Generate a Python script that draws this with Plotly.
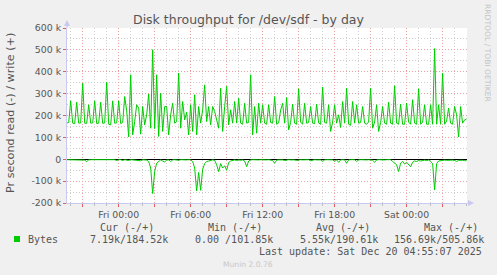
import plotly.graph_objects as go
import pandas as pd

# ---------------- data ----------------
start_time = "2025-12-18 19:40"
step = "10min"

write_k = [
    165, 168, 267, 165, 163, 261, 165, 166, 348, 165,
    164, 249, 165, 166, 267, 163, 165, 261, 164, 166,
    353, 160, 157, 267, 165, 166, 267, 163, 168, 287,
    221, 101.85, 386, 111, 172, 249, 234, 115, 241, 157,
    203, 298, 142, 501, 140, 386, 104, 302, 127, 241,
    241, 111, 203, 256, 165, 172, 394, 142, 264, 180,
    215, 111, 249, 127, 295, 111, 241, 165, 226, 340,
    172, 241, 157, 241, 218, 172, 142, 325, 127, 241,
    333, 157, 226, 165, 264, 165, 279, 165, 160, 256,
    165, 168, 386, 111, 241, 119, 256, 165, 249, 165,
    160, 249, 168, 165, 287, 160, 166, 225, 256, 165,
    282, 134, 168, 252, 165, 160, 322, 170, 160, 256,
    165, 168, 241, 165, 163, 252, 166, 160, 330, 168,
    165, 249, 127, 170, 249, 165, 203, 145, 264, 165,
    325, 160, 155, 264, 165, 249, 165, 168, 241, 165,
    160, 170, 325, 142, 170, 249, 127, 168, 241, 165,
    160, 261, 165, 160, 336, 165, 160, 252, 160, 160,
    256, 170, 160, 272, 165, 160, 322, 160, 170, 249,
    160, 160, 249, 160, 505.86, 160, 249, 160, 394, 160,
    175, 234, 165, 160, 241, 203, 102, 241, 165, 180,
    184.52,
]

read_k = [
    2, 2, 3, 2, 2, 3, 2, 2, 3, 4,
    11, 3, 2, 2, 3, 2, 2, 3, 2, 2,
    3, 2, 2, 3, 2, 6, 2, 2, 6, 2,
    3, 6, 2, 3, 2, 2, 5, 7, 2, 3,
    4, 10, 40, 156.69, 55, 18, 10, 3, 8, 12,
    4, 3, 10, 3, 2, 3, 5, 2, 3, 2,
    3, 2, 3, 10, 40, 145, 60, 142, 45, 20,
    10, 8, 5, 3, 5, 25, 57, 20, 40, 30,
    50, 15, 8, 5, 3, 6, 3, 5, 3, 8,
    34, 8, 3, 2, 3, 2, 3, 2, 3, 2,
    3, 2, 3, 6, 18, 4, 3, 2, 3, 6,
    3, 2, 3, 2, 3, 6, 3, 2, 3, 2,
    3, 2, 7, 3, 2, 3, 2, 3, 10, 3,
    2, 3, 2, 3, 10, 3, 14, 3, 2, 3,
    18, 3, 2, 3, 2, 10, 3, 2, 3, 2,
    3, 2, 3, 5, 14, 3, 2, 3, 2, 3,
    2, 3, 2, 10, 18, 25, 56, 18, 10, 22,
    14, 26, 34, 14, 8, 10, 6, 8, 5, 4,
    6, 4, 10, 20, 140, 20, 8, 6, 5, 4,
    5, 4, 5, 4, 6, 10, 5, 4, 5, 6,
    7.19,
]

x_tick_times = ["2025-12-18 21:00", "2025-12-19 00:00", "2025-12-19 03:00",
                "2025-12-19 06:00", "2025-12-19 09:00", "2025-12-19 12:00",
                "2025-12-19 15:00", "2025-12-19 18:00", "2025-12-19 21:00",
                "2025-12-20 00:00", "2025-12-20 03:00"]
x_tick_labels = ["", "Fri 00:00", "", "Fri 06:00", "", "Fri 12:00",
                 "", "Fri 18:00", "", "Sat 00:00", ""]
y_tick_vals = [-200000, -100000, 0, 100000, 200000, 300000, 400000, 500000, 600000]
y_tick_labels = ["-200 k", "-100 k", "0", "100 k", "200 k", "300 k", "400 k", "500 k", "600 k"]

legend_name = "Bytes"
legend_cols = ["Cur (-/+)", "Min (-/+)", "Avg (-/+)", "Max (-/+)"]
legend_vals = ["7.19k/184.52k", "0.00 /101.85k", "5.55k/190.61k", "156.69k/505.86k"]
last_update = "Last update: Sat Dec 20 04:55:07 2025"
title = "Disk throughput for /dev/sdf - by day"
y_title = "Pr second read (-) / write (+)"
footer = "Munin 2.0.76"
watermark = "RRDTOOL / TOBI OETIKER"

# ---------------- figure ----------------
times = pd.date_range(start=start_time, periods=len(write_k), freq=step)
GREEN = "#00CC00"
W, H = 497, 275
L, R, T, B = 67, 467, 28, 203
pw, ph = R - L, B - T


def px(x):
    return (x - L) / pw


def py(y):
    return (B - y) / ph


fig = go.Figure()
fig.add_trace(go.Scatter(x=times, y=[-v * 1000 for v in read_k], mode="lines",
                         line=dict(color=GREEN, width=1), hoverinfo="skip"))
fig.add_trace(go.Scatter(x=times, y=[v * 1000 for v in write_k], mode="lines",
                         line=dict(color=GREEN, width=1), hoverinfo="skip"))

MAJ = "#ECA0A0"
MIN = "#CFCFCF"
AX = "#C8C8F0"
TXT = "#555555"

fig.update_layout(
    width=W, height=H,
    margin=dict(l=L, r=W - R, t=T, b=H - B, pad=0),
    paper_bgcolor="#F0F0F0", plot_bgcolor="#FFFFFF",
    showlegend=False,
    font=dict(family="DejaVu Sans", color=TXT),
)
fig.update_xaxes(
    range=["2025-12-18 19:41:30", "2025-12-20 05:02:00"],
    tickmode="array", tickvals=x_tick_times, ticktext=x_tick_labels,
    showgrid=True, gridcolor=MAJ, griddash="1px,2px", gridwidth=1,
    ticks="outside", ticklen=3, tickcolor="#E06060", tickwidth=1,
    tickfont=dict(size=9.3, color=TXT, family="DejaVu Sans"),
    showline=True, linecolor=AX, linewidth=1,
    zeroline=False,
    minor=dict(tick0="2025-12-19 00:00", dtick=3600000, showgrid=True,
               gridcolor=MIN, griddash="1px,2px", gridwidth=1,
               ticks="outside", ticklen=2, tickcolor="#BBBBBB"),
)
fig.update_yaxes(
    range=[-200000, 600000],
    tickmode="array", tickvals=y_tick_vals, ticktext=y_tick_labels,
    showgrid=True, gridcolor=MAJ, griddash="1px,2px", gridwidth=1,
    ticks="outside", ticklen=3, tickcolor="#E06060", tickwidth=1,
    tickfont=dict(size=9.4, color=TXT, family="DejaVu Sans"),
    showline=True, linecolor=AX, linewidth=1,
    zeroline=True, zerolinecolor="#000000", zerolinewidth=1,
    minor=dict(tick0=0, dtick=50000, showgrid=True, gridcolor=MIN,
               griddash="1px,2px", gridwidth=1),
)

shapes = []
# y-axis extension + arrow
shapes.append(dict(type="line", xref="paper", yref="paper", x0=0, x1=0, y0=1, y1=py(23),
                   line=dict(color=AX, width=1)))
shapes.append(dict(type="path", xref="paper", yref="paper",
                   path=f"M {px(64)} {py(26)} L {px(70)} {py(26)} L {px(67)} {py(20)} Z",
                   fillcolor=AX, line=dict(color=AX, width=0)))
# x-axis extension + arrow
shapes.append(dict(type="line", xref="paper", yref="paper", x0=1, x1=px(471), y0=0, y1=0,
                   line=dict(color=AX, width=1)))
shapes.append(dict(type="path", xref="paper", yref="paper",
                   path=f"M {px(468)} {py(200)} L {px(468)} {py(206)} L {px(474)} {py(203)} Z",
                   fillcolor=AX, line=dict(color=AX, width=0)))
# legend swatch
shapes.append(dict(type="rect", xref="paper", yref="paper",
                   x0=px(14), x1=px(20), y0=py(242), y1=py(236),
                   fillcolor=GREEN, line=dict(width=0)))
fig.update_layout(shapes=shapes)

ann = []
ann.append(dict(text=title, x=px(248.5), y=py(19.5), xref="paper", yref="paper",
                xanchor="center", yanchor="middle", showarrow=False,
                font=dict(size=12.5, color=TXT, family="DejaVu Sans")))
ann.append(dict(text=y_title, x=px(10.5), y=py(113.5), xref="paper", yref="paper",
                xanchor="center", yanchor="middle", showarrow=False, textangle=-90,
                font=dict(size=11.2, color=TXT, family="DejaVu Sans")))
ann.append(dict(text=watermark, x=px(487.5), y=py(53.5), xref="paper", yref="paper",
                xanchor="center", yanchor="middle", showarrow=False, textangle=90,
                font=dict(size=7.6, color="#C4C4C4", family="DejaVu Sans")))

mono = dict(size=10, color=TXT, family="DejaVu Sans Mono")
ann.append(dict(text=legend_name, x=px(26.7), y=py(239.3), xref="paper", yref="paper",
                xanchor="left", yanchor="middle", showarrow=False, font=mono, borderpad=0))
col_x = [98.7, 206.7, 315.0, 423.0]
val_x = [89.3, 194.3, 299.0, 392.7]
for c, cx in zip(legend_cols, col_x):
    ann.append(dict(text=c, x=px(cx), y=py(227.7), xref="paper", yref="paper",
                    xanchor="left", yanchor="middle", showarrow=False, font=mono, borderpad=0))
for v, vx in zip(legend_vals, val_x):
    ann.append(dict(text=v, x=px(vx), y=py(239.3), xref="paper", yref="paper",
                    xanchor="left", yanchor="middle", showarrow=False, font=mono, borderpad=0))
ann.append(dict(text=last_update, x=px(482.7), y=py(251.7), xref="paper", yref="paper",
                xanchor="right", yanchor="middle", showarrow=False, font=mono, borderpad=0))
ann.append(dict(text=footer, x=px(248), y=py(264), xref="paper", yref="paper",
                xanchor="center", yanchor="middle", showarrow=False, borderpad=0,
                font=dict(size=7.6, color="#C8C8C8", family="DejaVu Sans")))
fig.update_layout(annotations=ann)

fig.write_html("out.html")
